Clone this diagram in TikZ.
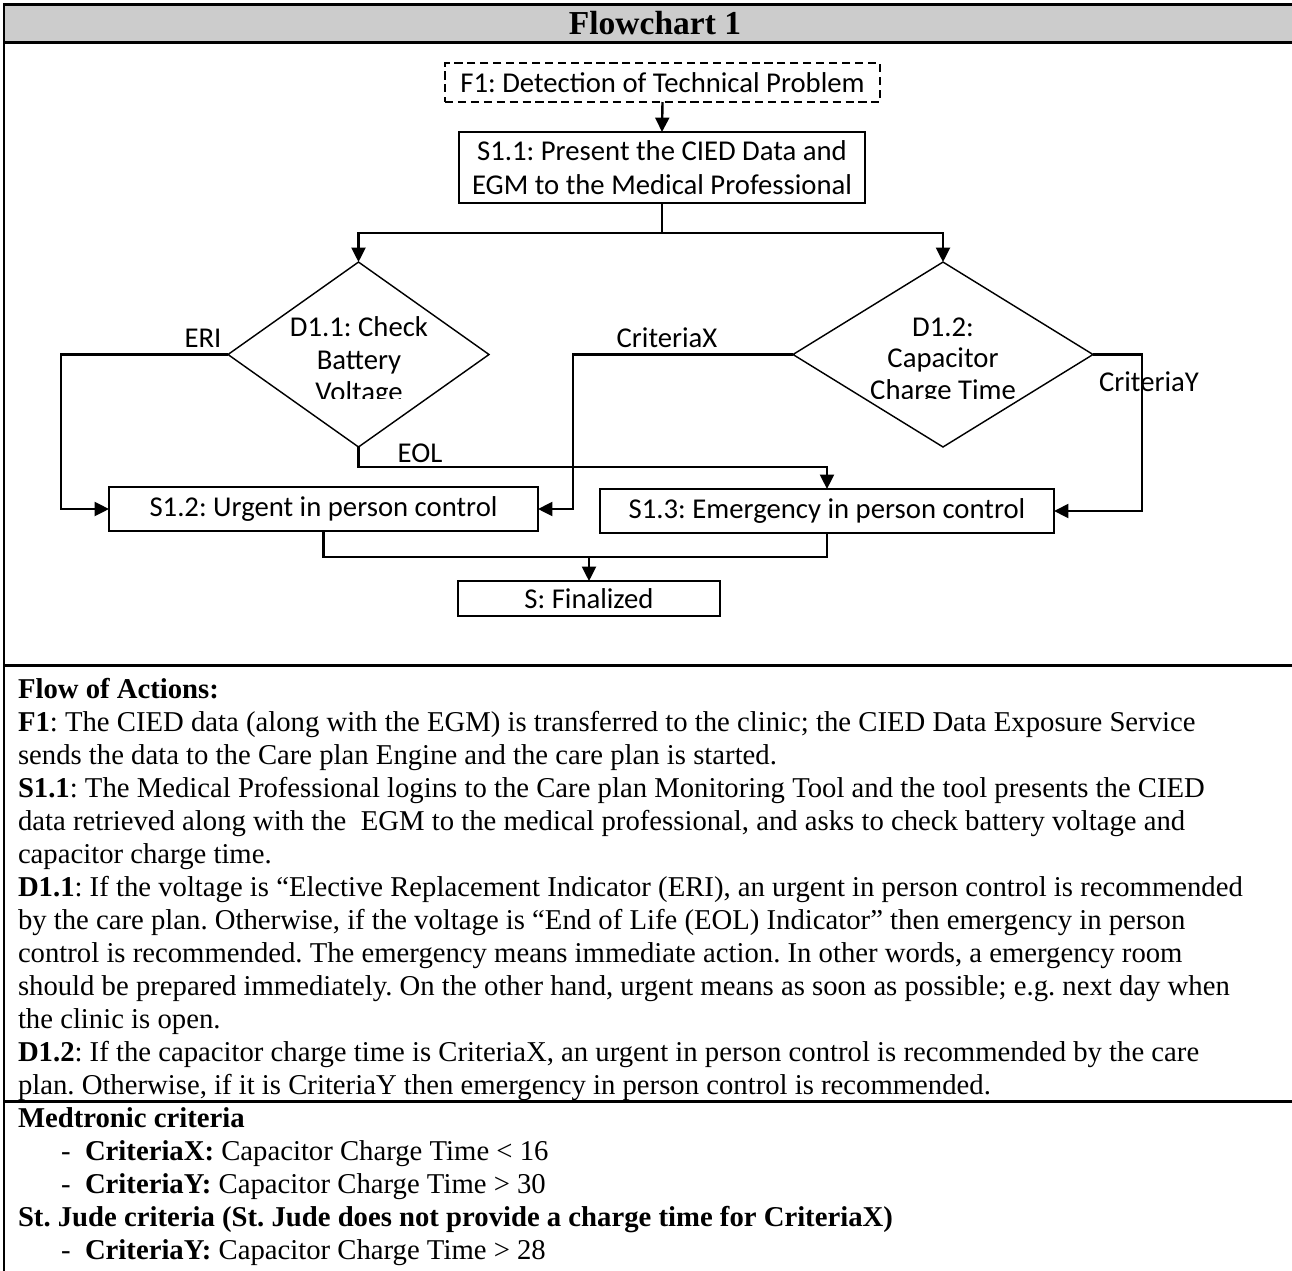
\documentclass[tikz,border=0pt]{standalone}
\usepackage{fontspec}
\setmainfont{Liberation Serif}
\newfontfamily\flowfont{Carlito}
\usetikzlibrary{shapes.geometric,arrows.meta}
\frenchspacing

\begin{document}
\begin{tikzpicture}[x=0.418pt,y=-0.418pt,
  every node/.style={inner sep=0pt, outer sep=0pt},
  frame/.style={line width=1.25pt},
  box/.style={draw, line width=0.75pt, align=center,
    font=\flowfont\fontsize{12}{14.2}\selectfont},
  startbox/.style={box, dash pattern=on 3.4pt off 2pt, line width=0.95pt},
  decision/.style={draw, diamond, line width=0.6pt, minimum height=77.3pt},
  lbl/.style={anchor=base, font=\flowfont\fontsize{12}{14.2}\selectfont},
  link/.style={line width=1pt, -{Triangle[length=6pt,width=5.8pt]}},
  plain/.style={line width=1pt},
  body/.style={anchor=base west, font=\fontsize{12}{14}\selectfont},
]
\useasboundingbox (0,0) rectangle (1292,1270);

% table: title row, flowchart cell, text cells
\fill[black!20] (4,4) rectangle (1310,42);
\draw[frame] (4,1280) -- (4,4) -- (1310,4);
\draw[frame] (4,42) -- (1310,42);
\draw[frame] (4,665) -- (1310,665);
\draw[frame] (4,1101) -- (1310,1101);
\node[font=\bfseries\fontsize{14}{16}\selectfont] (title) at (655,23) {Flowchart 1};

% flowchart nodes
\node[startbox, minimum width=181.8pt, minimum height=16.3pt] (f1) at (662.5,82.5)
  {F1: Detection of Technical Problem};
\node[box, minimum width=169.7pt, minimum height=29.7pt] (s11) at (662,167.5)
  {S1.1: Present the CIED Data and\\EGM to the Medical Professional};
\node[decision, minimum width=109.1pt] (d11) at (358.5,354.5) {};
\node[decision, minimum width=125.4pt] (d12) at (943,354.5) {};
\node[box, minimum width=179.3pt, minimum height=18.4pt] (s12) at (323.5,509)
  {S1.2: Urgent in person control};
\node[box, minimum width=189.8pt, minimum height=18.4pt] (s13) at (827,511)
  {S1.3: Emergency in person control};
\node[box, minimum width=109.5pt, minimum height=14.6pt] (fin) at (589,598.5)
  {S: Finalized};

% decision texts, cut off at the bottom of their text frames
\begin{scope}
  \clip (150,290) rectangle (1150,398);
  \node[lbl] (d11a) at (359,336) {D1.1: Check};
  \node[lbl] (d11b) at (359,369) {Battery};
  \node[lbl] (d11c) at (359,401) {Voltage};
  \node[lbl] (d12a) at (943,336) {D1.2:};
  \node[lbl] (d12b) at (943,367) {Capacitor};
  \node[lbl] (d12c) at (943,399) {Charge Time};
\end{scope}

% connectors
\draw[link] (f1.south) -- (s11.north);
\draw[link] (s11.south) -- ++(0,30) -| (d11.north);
\draw[link] (s11.south) -- ++(0,30) -| (d12.north);
\draw[link] (d11.west) -- ++(-167,0) |- (s12.west);
\draw[link] (d11.south) -- ++(0,20) -| (s13.north);
\draw[link] (d12.west) -- ++(-220,0) |- (s12.east);
\draw[link] (d12.east) -- ++(49,0) |- (s13.east);
\draw[plain] (s12.south) -- ++(0,26) -| (s13.south);
\coordinate (merge) at (589,557);
\draw[link] (merge) -- (fin.north);

% branch labels
\node[lbl] (eri) at (203,347) {ERI};
\node[lbl] (eol) at (420,462) {EOL};
\node[lbl] (cx) at (667,347) {CriteriaX};
\node[lbl] (cy) at (1149,391) {CriteriaY};

% flow of actions
\node[body] (t01) at (18,698) {\textbf{Flow of Actions:}};
\node[body] (t02) at (18,731) {\textbf{F1}: The CIED data (along with the EGM) is transferred to the clinic; the CIED Data Exposure Service};
\node[body] (t03) at (18,764) {sends the data to the Care plan Engine and the care plan is started.};
\node[body] (t04) at (18,797) {\textbf{S1.1}: The Medical Professional logins to the Care plan Monitoring Tool and the tool presents the CIED};
\node[body] (t05) at (18,830) {data retrieved along with the \ EGM to the medical professional, and asks to check battery voltage and};
\node[body] (t06) at (18,863) {capacitor charge time.};
\node[body] (t07) at (18,896) {\textbf{D1.1}: If the voltage is “Elective Replacement Indicator (ERI), an urgent in person control is recommended};
\node[body] (t08) at (18,929) {by the care plan. Otherwise, if the voltage is “End of Life (EOL) Indicator” then emergency in person};
\node[body] (t09) at (18,962) {control is recommended. The emergency means immediate action. In other words, a emergency room};
\node[body] (t10) at (18,995) {should be prepared immediately. On the other hand, urgent means as soon as possible; e.g. next day when};
\node[body] (t11) at (18,1028) {the clinic is open.};
\node[body] (t12) at (18,1061) {\textbf{D1.2}: If the capacitor charge time is CriteriaX, an urgent in person control is recommended by the care};
\node[body] (t13) at (18,1094) {plan. Otherwise, if it is CriteriaY then emergency in person control is recommended.};

% vendor criteria
\node[body] (m0) at (18,1127) {\textbf{Medtronic criteria}};
\node[body] (m1d) at (61,1160) {-};
\node[body] (m1) at (85,1160) {\textbf{CriteriaX:} Capacitor Charge Time < 16};
\node[body] (m2d) at (61,1193) {-};
\node[body] (m2) at (85,1193) {\textbf{CriteriaY:} Capacitor Charge Time > 30};
\node[body] (j0) at (18,1226) {\textbf{St. Jude criteria (St. Jude does not provide a charge time for CriteriaX)}};
\node[body] (j1d) at (61,1259) {-};
\node[body] (j1) at (85,1259) {\textbf{CriteriaY:} Capacitor Charge Time > 28};
\end{tikzpicture}
\end{document}
